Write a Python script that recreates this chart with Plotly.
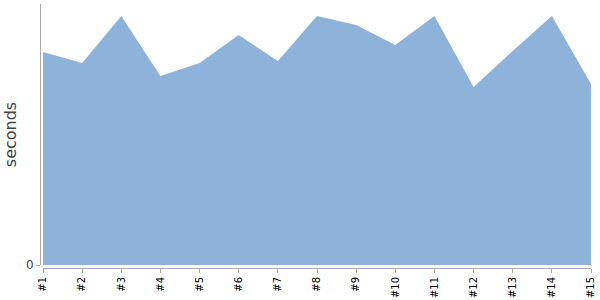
import plotly.graph_objects as go

categories = ["#1", "#2", "#3", "#4", "#5", "#6", "#7", "#8", "#9", "#10", "#11", "#12", "#13", "#14", "#15"]
seconds = [213, 202, 249, 189, 202, 230, 204, 249, 240, 220, 249, 178, 214, 249, 181]

fig = go.Figure()
fig.add_trace(go.Scatter(
    x=list(range(len(categories))), y=seconds,
    mode="lines", fill="tozeroy",
    line=dict(color="rgb(143,178,218)", width=0),
    fillcolor="rgb(143,178,218)",
    hoverinfo="skip",
))

W, H = 600, 300
ml, mr, mt, mb = 40, 9, 4, 32
pw = W - ml - mr
ph = H - mt - mb

fig.update_layout(
    width=W, height=H,
    margin=dict(l=ml, r=mr, t=mt, b=mb),
    paper_bgcolor="white", plot_bgcolor="white",
    showlegend=False,
    font=dict(family="DejaVu Sans"),
    xaxis=dict(
        domain=[3 / pw, 1],
        range=[0, len(categories) - 1],
        tickmode="array",
        tickvals=list(range(len(categories))),
        ticktext=categories,
        tickangle=-90,
        tickfont=dict(size=10, color="black"),
        ticks="outside", ticklen=4, tickcolor="#aaa",
        showline=True, linecolor="#aaa", linewidth=1,
        showgrid=False, zeroline=False,
        anchor="free", position=0,
        automargin=False,
    ),
    yaxis=dict(
        domain=[3 / ph, 1],
        range=[0, 261],
        tickmode="array", tickvals=[0], ticktext=["0"],
        tickfont=dict(size=12, color="#444"),
        ticks="outside", ticklen=4, tickcolor="#aaa",
        showline=True, linecolor="#aaa", linewidth=1,
        showgrid=False, zeroline=False,
        anchor="free", position=0,
        title=dict(text="seconds", font=dict(size=16, color="#444"), standoff=4),
        automargin=False,
    ),
)

fig.write_html("out.html")
